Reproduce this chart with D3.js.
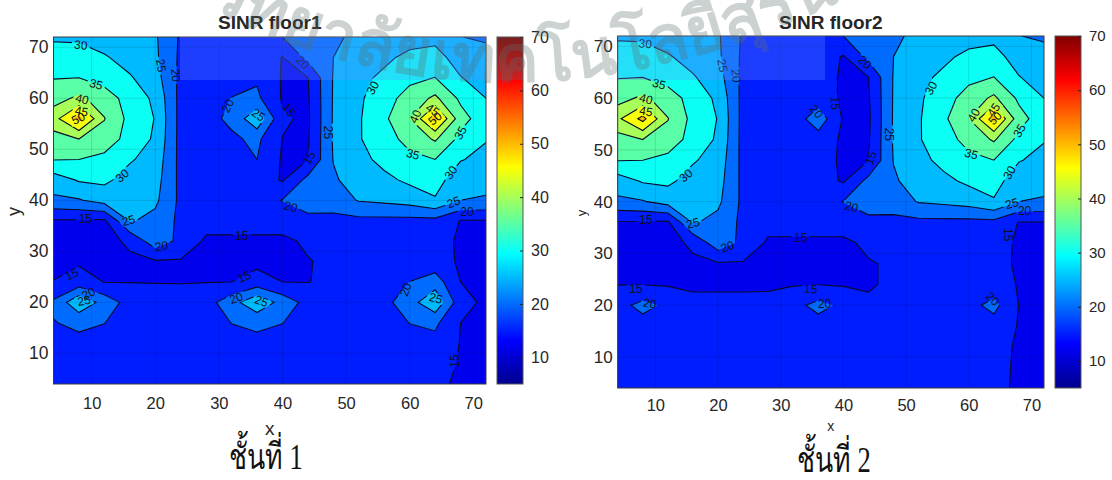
<!DOCTYPE html>
<html>
<head>
<meta charset="utf-8">
<script src="https://cdn.jsdelivr.net/npm/d3@7"></script>
<style>
  html, body { margin: 0; background: #fff; }
  svg { display: block; }
  text { font-family: "Liberation Sans", Arial, sans-serif; fill: #262626; }
  .lab { font-size: 12px; fill: #101020; text-anchor: middle; dominant-baseline: central; }
  .cap { font-family: "Liberation Serif", "Noto Sans", serif; font-size: 36px; fill: #111; text-anchor: middle; }
</style>
</head>
<body>
<div id="chart"></div>
<script>
var w = 1112, h = 480;

var gridX = [4, 8, 12, 16, 20, 24, 28, 32, 36, 40, 44, 48, 52, 56, 60, 64, 68, 72];
var gridY = [72, 68, 64, 60, 56, 52, 48, 44, 40, 36, 32, 28, 24, 20, 16, 12, 8, 4];
var levels = [10, 15, 20, 25, 30, 35, 40, 45, 50];
var xTicks = [10, 20, 30, 40, 50, 60, 70];
var yTicks = [10, 20, 30, 40, 50, 60, 70];
var cbTicks = [10, 20, 30, 40, 50, 60, 70];
var cbDomain = [5, 70];

// SINR, one list per x, running from y=72 down to y=4
var floor1 = [
  [29.7, 31, 34.8, 38, 43, 38, 35.2, 27.5, 24, 14.5, 13.8, 14, 15.1, 20.8, 19.8, 17.5, 16, 15.3],
  [29.2, 32, 35, 41, 52, 40, 35, 30.5, 24.6, 14.6, 13.6, 14.4, 17, 29, 21, 18.8, 16.5, 15.5],
  [27.5, 30.5, 33, 37.5, 40.2, 38, 33.5, 31, 27, 14.2, 13.5, 13.8, 14.9, 23, 20.1, 18, 16.2, 15.4],
  [26, 28, 30.5, 33, 33.5, 33, 30.5, 28, 27, 25.5, 15.8, 14.2, 14.9, 18, 17.5, 16.5, 15.8, 15.3],
  [25.6, 25.9, 27, 29, 29.8, 29.3, 28, 27, 26, 23.5, 23, 14.5, 14.9, 16.3, 16, 15.8, 15.6, 15.3],
  [19.3, 19, 18.6, 18.3, 18.2, 18.2, 18.4, 18.6, 18.8, 18.8, 18.7, 14.5, 14.9, 16, 15.9, 15.7, 15.5, 15.3],
  [18.5, 18.4, 18.3, 18.3, 18.5, 18.3, 18.2, 18, 17.5, 16.8, 14.2, 13.8, 14.9, 18, 17.5, 16.8, 15.9, 15.3],
  [18, 18.2, 18.5, 20.1, 21, 19.2, 18.5, 18, 17.5, 16.8, 14.2, 13.8, 15, 23, 20.1, 18, 16.2, 15.4],
  [18, 18.5, 19.3, 21, 29, 21, 20, 18, 17.5, 16.8, 14.2, 13.8, 17, 29, 21, 18.8, 16.5, 15.5],
  [20, 14.8, 14.6, 14.5, 15.6, 14.9, 14.5, 14.5, 20.2, 16.8, 14.2, 13.8, 15, 23, 20.1, 18, 16.2, 15.4],
  [24, 21.5, 14.9, 14.5, 14.2, 14.5, 14.9, 21.5, 23.5, 18, 15.6, 14.8, 14.9, 18.3, 17.5, 16.5, 15.8, 15.4],
  [23.5, 25, 25.3, 25.4, 25.5, 25.5, 25.2, 24.3, 22.5, 18.5, 16, 15.8, 15.8, 16.2, 16, 15.8, 15.5, 15.3],
  [27, 27.8, 28.7, 29.2, 29.5, 29.6, 28.5, 27.5, 25.3, 18.7, 16, 15.8, 15.8, 16, 16, 15.8, 15.5, 15.3],
  [26.5, 29, 31, 33, 34, 33, 31.4, 28.8, 26, 18.7, 16.2, 16, 17, 18.5, 17.5, 16.8, 16, 15.4],
  [28, 31.2, 33.8, 37, 40, 36.6, 33.8, 31, 27, 18.6, 16.2, 16.5, 20.1, 23, 20.1, 18, 16.2, 15.4],
  [28.8, 31.6, 35.1, 41, 52, 40.6, 35, 32, 29.5, 18.6, 16.3, 17, 22.5, 29, 21, 18.5, 16.5, 15.5],
  [25.1, 28, 30.2, 34, 37, 33.5, 30.3, 27, 25, 14.8, 14.5, 14.4, 15, 16.8, 15, 14.8, 14.7, 14.6],
  [24.3, 26.7, 28, 30, 32, 30.3, 28.5, 26.5, 24.5, 14.8, 14.3, 14.2, 14.2, 14, 14.2, 14.3, 14.4, 14.4]
];
var floor2 = [
  [29.7, 31, 34.8, 38, 44, 38, 35.2, 27.5, 24, 14.5, 13.8, 14, 14.9, 18.3, 16, 15.6, 15.4, 15.2],
  [29.2, 32, 35, 41, 51.5, 40, 35, 30.5, 24.6, 14.6, 13.6, 14.4, 14.9, 21.5, 18, 15.9, 15.5, 15.3],
  [27.5, 30.5, 33, 37.5, 40.2, 38, 33.5, 31, 27, 14.2, 13.5, 13.8, 14.6, 19, 16, 15.6, 15.4, 15.2],
  [26, 28, 30.5, 33, 33.5, 33, 30.5, 28, 27, 25.5, 15.8, 14.2, 14.6, 15.7, 15.6, 15.5, 15.3, 15.2],
  [25.6, 25.9, 27, 29, 29.8, 29.3, 28, 27, 26, 23.5, 23, 14.5, 14.6, 15.7, 15.6, 15.5, 15.3, 15.2],
  [19.3, 19, 18.6, 18.3, 18.2, 18.2, 18.4, 18.6, 18.8, 18.8, 18.7, 14.5, 14.6, 15.7, 15.6, 15.5, 15.3, 15.2],
  [18.5, 18.4, 18.3, 18.3, 18, 18, 18, 17.8, 17.5, 16.8, 14.2, 13.8, 14.6, 15.8, 15.6, 15.5, 15.3, 15.2],
  [18, 18, 17.8, 17.6, 17, 17.2, 17.3, 17.4, 17.2, 16.8, 14.2, 13.8, 14.7, 18.5, 16, 15.6, 15.4, 15.2],
  [18, 17.8, 17.6, 17.5, 23, 17.8, 17, 17, 17, 16.8, 14.2, 13.8, 14.9, 21.5, 18, 15.9, 15.5, 15.3],
  [20, 14.6, 14.2, 14.2, 14.5, 14.2, 14.2, 14.5, 20.2, 16.8, 14.2, 13.8, 14.6, 19, 16, 15.6, 15.4, 15.2],
  [24, 21.5, 14.9, 14.5, 14.2, 14.5, 14.9, 21.5, 23.5, 18, 15.8, 14.7, 14.7, 15.5, 15.5, 15.4, 15.3, 15.2],
  [23.5, 25, 25.3, 25.4, 25.5, 25.5, 25.2, 24.3, 22.5, 18.5, 16, 15.5, 15.5, 15.5, 15.5, 15.4, 15.3, 15.2],
  [27, 27.8, 28.7, 29.2, 29.5, 29.6, 28.5, 27.5, 25.3, 18.7, 16, 15.6, 15.6, 15.6, 15.5, 15.4, 15.3, 15.2],
  [26.5, 29, 31, 33, 34, 33, 31.4, 28.8, 26, 18.7, 15.9, 15.6, 15.6, 15.7, 15.6, 15.5, 15.4, 15.3],
  [28, 31.2, 33.8, 37, 40, 36.6, 33.8, 31, 27, 18.6, 15.8, 15.6, 15.7, 18.5, 15.7, 15.6, 15.5, 15.4],
  [28.8, 31.6, 35.1, 41, 52, 40.6, 35, 32, 29.5, 18.6, 15.8, 15.7, 17, 21.5, 18, 15.8, 15.6, 15.5],
  [25.1, 28, 30.2, 34, 37, 33.5, 30.3, 27, 25, 14.8, 14.7, 14.7, 14.7, 14.9, 14.7, 14.7, 14.7, 14.7],
  [24.3, 26.7, 28, 30, 32, 30.3, 28.5, 26.5, 24.5, 14.8, 14.5, 14.4, 14.4, 14.4, 14.4, 14.4, 14.4, 14.4]
];

// contour labels: level, x, y, rotation
var labels1 = [
  [30, 8.3, 70.4, 5], [35, 10.7, 62.7, 15], [40, 8.5, 59.8, 15], [45, 8.4, 57.4, 10], [50, 7.9, 56, -25],
  [30, 14.8, 44.8, -40], [25, 20.9, 66.4, 80], [20, 23.2, 64.5, 85], [20, 31.4, 58.5, -65], [25, 36.2, 56.7, 35],
  [15, 9, 36.3, 0], [25, 15.8, 36, -15], [20, 21, 31, -10], [15, 33.6, 33, 0], [15, 6.9, 25.5, -25],
  [20, 9.5, 21.7, -25], [25, 8.8, 20.3, -10], [15, 34, 25, -20], [20, 32.7, 20.8, -20], [25, 36.7, 20.2, 20],
  [20, 43.2, 67, 45], [15, 41, 57.7, 55], [15, 44.2, 48.3, -60], [25, 47.2, 53.3, 90], [20, 41.3, 38.7, 15],
  [30, 54.2, 62, -60], [35, 60.5, 49, 15], [40, 60.9, 56.4, -65], [45, 63.6, 57.7, 35], [50, 64, 56, -40],
  [35, 68, 53.2, -60], [30, 66.5, 45.4, -55], [25, 66.9, 39.6, -20], [20, 69, 37.8, 0], [20, 59.4, 22.5, -70],
  [25, 64.1, 20.8, 15], [15, 67.1, 8.5, -90]
];
var labels2 = [
  [30, 8.4, 70.5, 5], [35, 10.6, 62.7, 15], [40, 8.5, 59.8, 15], [45, 8.5, 57.4, 10], [30, 14.9, 45, -40],
  [25, 20.7, 66.3, 80], [20, 22.9, 64.3, 85], [15, 8.5, 36.5, 0], [25, 16, 35.8, -15], [20, 35.7, 57.4, 50],
  [15, 38.7, 59, 90], [20, 43.4, 66.9, 45], [15, 44.4, 48.4, -70], [25, 47.3, 53, 90], [20, 41.3, 39, 15],
  [30, 54, 61.9, -60], [35, 60.4, 49.2, 15], [40, 60.8, 56.7, -60], [45, 64, 57.7, -55], [50, 64.2, 56.1, -45],
  [35, 68.1, 53.7, -60], [30, 66.5, 45.6, -60], [25, 66.9, 39.6, -15], [20, 68.9, 38.1, 0], [15, 66.3, 33.6, 90],
  [20, 21.5, 31.3, -20], [15, 33.2, 33, 0], [15, 6.9, 23.1, 0], [20, 9.1, 20.3, 10], [15, 34.8, 23.1, 5],
  [20, 37, 20.3, 0], [20, 63.8, 21.2, 45]
];

var jetStops = [0, 0.125, 0.375, 0.625, 0.875, 1];
var jetColors = ['#00008f', '#0000ff', '#00ffff', '#ffff00', '#ff0000', '#800000'];
var jet = d3.scaleLinear().domain(jetStops).range(jetColors);
var cbT = d3.scaleLinear().domain(cbDomain).range([0, 1]);

var svg = d3.select('#chart').append('svg')
  .attr('width', w)
  .attr('height', h);

var defs = svg.append('defs');
var grad = defs.append('linearGradient')
  .attr('id', 'jet')
  .attr('x1', 0).attr('x2', 0).attr('y1', 1).attr('y2', 0);
jetStops.forEach(function(s, i) {
  grad.append('stop').attr('offset', s).attr('stop-color', jetColors[i]);
});

drawFloor({
  id: 'f1', z: floor1, labels: labels1, title: 'SINR floor1', caption: 'ชั้นที่ 1',
  left: 53.5, right: 486, top: 37, bottom: 384, cbLeft: 497, cbRight: 523,
  yFont: 17.5, cbFont: 16, xPad: 13, xLabelFont: 19, xLabelY: 435, yLabelFont: 18, yLabelX: 20,
  capX: 266, capY: 469
});
drawFloor({
  id: 'f2', z: floor2, labels: labels2, title: 'SINR floor2', caption: 'ชั้นที่ 2',
  left: 617.7, right: 1044, top: 36, bottom: 388, cbLeft: 1055, cbRight: 1081,
  yFont: 17, cbFont: 15, xPad: 11, xLabelFont: 14, xLabelY: 431, yLabelFont: 13, yLabelX: 586,
  capX: 834, capY: 472
});

// the pale band the scan left over part of the figure
var bands = [[180, 486, 37, 80, 'rgb(100,145,255)'], [497, 523, 37, 80, 'rgb(103,103,103)'], [618, 825, 36, 80, 'rgb(100,145,255)']];
svg.append('g').selectAll('rect')
  .data(bands)
  .enter().append('rect')
    .attr('x', function(d) { return d[0]; })
    .attr('width', function(d) { return d[1] - d[0]; })
    .attr('y', function(d) { return d[2]; })
    .attr('height', function(d) { return d[3] - d[2]; })
    .style('fill', function(d) { return d[4]; })
    .style('opacity', 0.29);

// watermark across the top
defs.append('path')
  .attr('id', 'arc')
  .attr('d', 'M205,5 Q530,175 900,-30');
svg.append('text')
  .style('font-family', '"Noto Sans", "DejaVu Sans", sans-serif')
  .style('font-size', '66px')
  .style('font-weight', 'bold')
  .style('fill', 'rgb(90,110,110)')
  .style('opacity', 0.3)
  .append('textPath')
    .attr('href', '#arc')
    .text('วิทยาลัยเทคโนโลยีสุรนารี');

function drawFloor(c) {
  var x = d3.scaleLinear().domain([4, 72]).range([c.left, c.right]);
  var y = d3.scaleLinear().domain([4, 72]).range([c.bottom, c.top]);
  var cy = d3.scaleLinear().domain(cbDomain).range([c.bottom, c.top]);
  var iw = c.right - c.left, ih = c.bottom - c.top;

  var nx = gridX.length, ny = gridY.length;
  var values = [];
  for (var j = 0; j < ny; j++) {
    for (var i = 0; i < nx; i++) values.push(c.z[i][j]);
  }
  var stepX = gridX[1] - gridX[0], stepY = gridY[1] - gridY[0];
  // d3 puts value i at i+0.5, so shift back onto the x,y of the grid
  var path = d3.geoPath(d3.geoTransform({
    point: function(px, py) {
      this.stream.point(x(gridX[0] + (px - 0.5) * stepX), y(gridY[0] + (py - 0.5) * stepY));
    }
  }));
  var contours = d3.contours().size([nx, ny]).smooth(true).thresholds(levels)(values);

  defs.append('clipPath').attr('id', c.id + '-clip')
    .append('rect').attr('x', c.left).attr('y', c.top).attr('width', iw).attr('height', ih);

  // clabel style gaps in the lines
  var mask = defs.append('mask').attr('id', c.id + '-mask').attr('maskUnits', 'userSpaceOnUse')
    .attr('x', 0).attr('y', 0).attr('width', w).attr('height', h);
  mask.append('rect').attr('width', w).attr('height', h).style('fill', '#fff');
  mask.selectAll('.gap')
    .data(c.labels)
    .enter().append('rect')
      .attr('x', -9).attr('y', -5).attr('width', 18).attr('height', 10)
      .attr('transform', function(d) { return 'translate(' + [x(d[1]), y(d[2])] + ') rotate(' + d[3] + ')'; })
      .style('fill', '#000');

  var plot = svg.append('g').attr('clip-path', 'url(#' + c.id + '-clip)');
  plot.append('g').selectAll('path')
    .data(contours)
    .enter().append('path')
      .attr('d', path)
      // lowest band sits a little brighter than its level in the reference
      .style('fill', function(d) { return jet(cbT(Math.max(d.value, 12))); });

  // faint grid
  plot.append('g').selectAll('line')
    .data(xTicks)
    .enter().append('line')
      .attr('x1', x).attr('x2', x).attr('y1', c.top).attr('y2', c.bottom)
      .style('stroke', 'rgba(0,0,0,0.12)');
  plot.append('g').selectAll('line')
    .data(yTicks)
    .enter().append('line')
      .attr('y1', y).attr('y2', y).attr('x1', c.left).attr('x2', c.right)
      .style('stroke', 'rgba(0,0,0,0.12)');

  plot.append('g').attr('mask', 'url(#' + c.id + '-mask)').selectAll('path')
    .data(contours.slice(1))
    .enter().append('path')
      .attr('d', path)
      .style('fill', 'none')
      .style('stroke', '#0a0a28')
      .style('stroke-width', 1.1);

  plot.append('g').selectAll('text')
    .data(c.labels)
    .enter().append('text')
      .attr('class', 'lab')
      .attr('transform', function(d) { return 'translate(' + [x(d[1]), y(d[2])] + ') rotate(' + d[3] + ')'; })
      .text(function(d) { return d[0]; });

  svg.append('rect')
    .attr('x', c.left).attr('y', c.top).attr('width', iw).attr('height', ih)
    .style('fill', 'none').style('stroke', '#3a3a3a');

  var xAxis = d3.axisBottom(x).tickValues(xTicks).tickSize(0).tickPadding(c.xPad);
  var yAxis = d3.axisLeft(y).tickValues(yTicks).tickSize(0).tickPadding(5);
  var xG = svg.append('g').attr('transform', 'translate(' + [0, c.bottom] + ')').call(xAxis);
  var yG = svg.append('g').attr('transform', 'translate(' + [c.left, 0] + ')').call(yAxis);
  xG.select('.domain').remove();
  yG.select('.domain').remove();
  xG.selectAll('text').style('font-size', '16.5px').style('fill', '#262626');
  yG.selectAll('text').style('font-size', c.yFont + 'px').style('fill', '#262626');
  xG.attr('font-family', null);
  yG.attr('font-family', null);

  // colorbar
  svg.append('rect')
    .attr('x', c.cbLeft).attr('y', c.top)
    .attr('width', c.cbRight - c.cbLeft).attr('height', ih)
    .style('fill', 'url(#jet)')
    .style('stroke', '#555');
  var cbAxis = d3.axisRight(cy).tickValues(cbTicks).tickSize(-3).tickPadding(8);
  var cbG = svg.append('g').attr('transform', 'translate(' + [c.cbRight, 0] + ')').call(cbAxis);
  cbG.select('.domain').remove();
  cbG.attr('font-family', null);
  cbG.selectAll('text').style('font-size', c.cbFont + 'px').style('fill', '#262626');
  cbG.selectAll('line').style('stroke', '#222');

  var mid = (c.left + c.right) / 2;
  svg.append('text')
    .attr('x', mid).attr('y', 29)
    .attr('text-anchor', 'middle')
    .style('font-size', '19px').style('font-weight', 'bold')
    .text(c.title);
  svg.append('text')
    .attr('x', mid).attr('y', c.xLabelY)
    .attr('text-anchor', 'middle')
    .style('font-size', c.xLabelFont + 'px')
    .text('x');
  svg.append('text')
    .attr('transform', 'translate(' + [c.yLabelX, (c.top + c.bottom) / 2 + 1] + ') rotate(-90)')
    .attr('text-anchor', 'middle')
    .style('font-size', c.yLabelFont + 'px')
    .text('y');
  // the caption font in the reference is tall and narrow
  svg.append('text')
    .attr('class', 'cap')
    .attr('transform', 'translate(' + [c.capX, c.capY] + ') scale(0.74,1)')
    .text(c.caption);
}
</script>
</body>
</html>
